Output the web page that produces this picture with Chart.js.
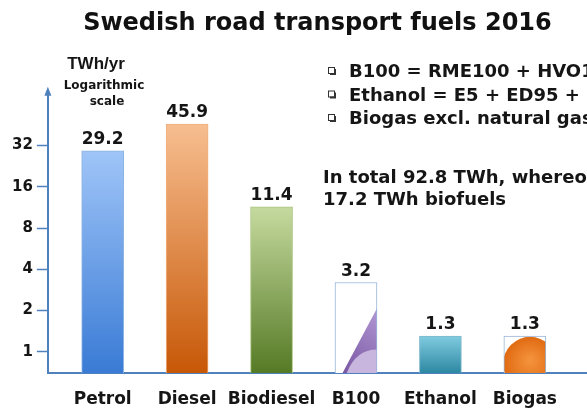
<!DOCTYPE html>
<html>
<head>
<meta charset="utf-8">
<script src="https://cdn.jsdelivr.net/npm/chart.js@4.4.1/dist/chart.umd.min.js"></script>
<style>
  html, body { margin: 0; padding: 0; background: #fff; }
  canvas { display: block; }
</style>
</head>
<body>
<canvas id="fuels" width="587" height="414"></canvas>
<script>
// data
const fuels = ['Petrol', 'Diesel', 'Biodiesel', 'B100', 'Ethanol', 'Biogas'];
const twh = [29.2, 45.9, 11.4, 3.2, 1.3, 1.3];
const yTicks = [1, 2, 4, 8, 16, 32];
const notes = ['B100 = RME100 + HVO100', 'Ethanol = E5 + ED95 + E85', 'Biogas excl. natural gas'];
const totalText = ['In total 92.8 TWh, whereof', '17.2 TWh biofuels'];

// bar looks (gradient top/bottom, or a picture fill)
const fills = [
  ['#9fc5f8', '#3a7bd5'],
  ['#f7be90', '#c75807'],
  ['#c6da9f', '#557a25'],
  'b100',
  ['#80cbe0', '#2d88a2'],
  'biogas'
];
const borders = ['#8db3e2', '#f1b07e', '#a9c47f', '#95b3d7', '#7fb9cc', '#95b3d7'];
const axisBlue = '#4f81bd';
const textFont = 'DejaVu Sans';

function pictureFill(c, kind, left, top, w, h) {
  const off = document.createElement('canvas');
  off.width = Math.max(1, Math.round(w));
  off.height = Math.max(1, Math.round(h));
  const o = off.getContext('2d');
  w = off.width; h = off.height;
  o.fillStyle = '#fff';
  o.fillRect(0, 0, w, h);
  if (kind === 'b100') {
    // purple wedge climbing the right side
    let g = o.createLinearGradient(0, h, w, h * 0.3);
    g.addColorStop(0, '#76539f');
    g.addColorStop(1, '#b096d3');
    o.fillStyle = g;
    o.beginPath();
    o.moveTo(w, h * 0.28);
    o.lineTo(w * 0.18, h);
    o.lineTo(w, h);
    o.closePath();
    o.fill();
    // lighter lower part
    o.save();
    o.clip();
    o.fillStyle = '#c9b6df';
    o.beginPath();
    o.moveTo(w * 0.28, h);
    o.quadraticCurveTo(w * 0.5, h * 0.74, w, h * 0.74);
    o.lineTo(w, h);
    o.closePath();
    o.fill();
    o.restore();
  } else if (kind === 'biogas') {
    const cx = w * 0.62, cy = h * 0.75, r = w * 0.64;
    const g = o.createRadialGradient(cx, cy - 4, 2, cx, cy, r);
    g.addColorStop(0, '#f3913a');
    g.addColorStop(1, '#e06a12');
    o.fillStyle = g;
    o.beginPath();
    o.arc(cx, cy, r, 0, Math.PI * 2);
    o.fill();
  }
  const p = c.createPattern(off, 'no-repeat');
  p.setTransform(new DOMMatrix([1, 0, 0, 1, Math.round(left), Math.round(top)]));
  return p;
}

function barFill(ctx) {
  const chart = ctx.chart;
  const area = chart.chartArea;
  if (!area || ctx.type !== 'data') return '#fff';
  const i = ctx.dataIndex;
  const cx = chart.scales.x.getPixelForValue(i);
  const top = chart.scales.y.getPixelForValue(twh[i]);
  const bottom = area.bottom;
  const f = fills[i];
  if (typeof f === 'string') return pictureFill(chart.ctx, f, cx - 21, top, 42, bottom - top);
  const g = chart.ctx.createLinearGradient(0, top, 0, bottom);
  g.addColorStop(0, f[0]);
  g.addColorStop(1, f[1]);
  return g;
}

// value labels, axis arrow and the notes on the right
const extras = {
  id: 'extras',
  afterDatasetsDraw(chart) {
    const c = chart.ctx;
    const meta = chart.getDatasetMeta(0);
    c.save();
    c.fillStyle = '#151515';
    c.font = 'bold 17px ' + textFont;
    c.textAlign = 'center';
    c.textBaseline = 'alphabetic';
    meta.data.forEach((bar, i) => {
      c.fillText(twh[i].toFixed(1), bar.x, bar.y - 7);
    });
    c.restore();
  },
  afterDraw(chart) {
    const c = chart.ctx;
    const area = chart.chartArea;
    c.save();
    // arrow on the y axis
    c.fillStyle = axisBlue;
    c.strokeStyle = axisBlue;
    c.lineWidth = 2;
    c.beginPath();
    c.moveTo(area.left, area.top + 1);
    c.lineTo(area.left, area.top - 2);
    c.stroke();
    c.beginPath();
    c.moveTo(area.left, area.top - 8);
    c.lineTo(area.left - 3.5, area.top + 1);
    c.lineTo(area.left + 3.5, area.top + 1);
    c.closePath();
    c.fill();

    // unit text
    c.fillStyle = '#151515';
    c.textAlign = 'center';
    c.font = 'bold 17px "Liberation Sans"';
    c.fillText('TWh/yr', 96, 69);
    c.font = 'bold 12px ' + textFont;
    c.fillText('Logarithmic', 104, 89);
    c.fillText('scale', 107, 105);

    // bullet notes
    c.textAlign = 'left';
    c.font = 'bold 18px ' + textFont;
    notes.forEach((t, k) => {
      const base = 77 + k * 23.5;
      c.fillStyle = '#333';
      c.fillRect(330, base - 8, 6, 6);
      c.fillStyle = '#fff';
      c.fillRect(329, base - 9, 5, 5);
      c.strokeStyle = '#333';
      c.lineWidth = 1;
      c.strokeRect(328.5, base - 9.5, 6, 6);
      c.fillStyle = '#151515';
      c.fillText(t, 349, base);
    });
    totalText.forEach((t, k) => {
      c.fillText(t, 323, 183 + k * 22);
    });
    c.restore();
  }
};

const ctx = document.getElementById('fuels').getContext('2d');
new Chart(ctx, {
  type: 'bar',
  data: {
    datasets: [{
      label: 'TWh/yr',
      data: fuels.map((f, i) => ({ x: i, y: twh[i] })),
      backgroundColor: barFill,
      borderColor: borders,
      borderWidth: 1,
      borderSkipped: 'bottom',
      barThickness: 42
    }]
  },
  plugins: [extras],
  options: {
    responsive: false,
    animation: false,
    devicePixelRatio: 1,
    layout: {
      padding: { left: 8, right: 0, top: 0, bottom: 6 }
    },
    plugins: {
      legend: { display: false },
      tooltip: { enabled: false },
      title: {
        display: true,
        fullSize: false,
        text: 'Swedish road transport fuels 2016',
        color: '#111',
        font: { family: textFont, size: 24, weight: 'bold' },
        padding: { top: 9, bottom: 57 }
      }
    },
    scales: {
      x: {
        type: 'linear',
        offset: false,
        min: -0.649,
        max: 5.736,
        afterBuildTicks: (scale) => {
          scale.ticks = fuels.map((f, i) => ({ value: i }));
        },
        afterFit: (scale) => {
          scale.height = 35;
        },
        ticks: {
          callback: (v) => fuels[v] ?? '',
          color: '#151515',
          padding: 16,
          maxRotation: 0,
          autoSkip: false,
          font: { family: textFont, size: 17, weight: 'bold' }
        },
        grid: { display: false, drawTicks: false },
        border: { display: true, color: axisBlue, width: 2 }
      },
      y: {
        type: 'logarithmic',
        min: 0.71,
        max: 75,
        afterBuildTicks: (scale) => {
          scale.ticks = yTicks.map(v => ({ value: v }));
        },
        ticks: {
          callback: (v) => String(v),
          color: '#151515',
          padding: 4,
          font: { family: textFont, size: 15, weight: 'bold' }
        },
        grid: {
          drawOnChartArea: false,
          drawTicks: true,
          tickLength: 11,
          tickColor: axisBlue,
          tickWidth: 1.5
        },
        border: { display: true, color: axisBlue, width: 2 }
      }
    }
  }
});
</script>
</body>
</html>
